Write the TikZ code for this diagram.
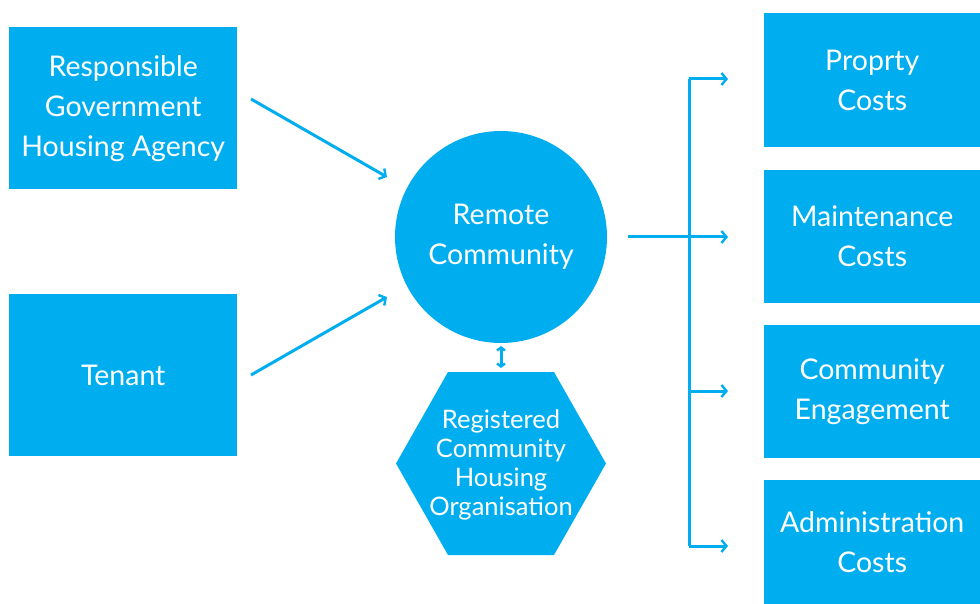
\documentclass[tikz,border=0pt]{standalone}
\usepackage{fontspec}
\setmainfont{Lato}
\usetikzlibrary{arrows.meta}
\definecolor{cy}{RGB}{0,174,239}
\tikzset{
  box/.style={fill=cy, text=white, align=center, inner sep=0pt, anchor=north west},
  big/.style={font=\fontsize{28.5}{40}\selectfont},
  small/.style={font=\fontsize{25.5}{29}\selectfont},
  conn/.style={draw=cy, line width=3pt, -{Straight Barb[length=5pt,width=12pt,line width=2.4pt]}},
}
\begin{document}
\begin{tikzpicture}[x=1pt,y=-1pt]
\useasboundingbox (0,0) rectangle (980,604);
% left boxes
\node[box, big, minimum width=228pt, minimum height=162pt] (agency) at (9,27) {Responsible\\Government\\Housing Agency};
\node[box, big, minimum width=228pt, minimum height=162pt] (tenant) at (9,294) {Tenant};
% circle
\node[circle, fill=cy, text=white, align=center, big, minimum size=212pt, inner sep=0pt] (remote) at (501,237) {Remote\\Community};
% hexagon
\fill[cy] (448,372) -- (554,372) -- (606,463.5) -- (554,555) -- (448,555) -- (396,463.5) -- cycle;
\node[text=white, align=center, small, inner sep=0pt] (rcho) at (501,465) {Registered\\Community\\Housing\\Organisation};
\coordinate (hextop) at (501,368);
\coordinate (circbot) at (501,346);
% right boxes
\node[box, big, minimum width=216pt, minimum height=134pt] (prop) at (764,13) {Proprty\\Costs};
\node[box, big, minimum width=216pt, minimum height=133pt] (maint) at (764,170) {Maintenance\\Costs};
\node[box, big, minimum width=216pt, minimum height=133pt] (engage) at (764,325) {Community\\Engagement};
\node[box, big, minimum width=216pt, minimum height=124pt] (admin) at (764,480) {Administration\\Costs};
% connector coordinates
\coordinate (a1s) at (251,99);
\coordinate (a1e) at (387,177);
\coordinate (a2s) at (251,375);
\coordinate (a2e) at (387,297);
\coordinate (hs) at (628,237);
\coordinate (vtop) at (689,79);
\coordinate (v3) at (689,391);
\coordinate (vbot) at (689,546);
\coordinate (e1) at (728,79);
\coordinate (e2) at (728,237);
\coordinate (e3) at (728,391);
\coordinate (e4) at (728,546);
\draw[conn] (a1s) -- (a1e);
\draw[conn] (a2s) -- (a2e);
\draw[conn] (hs) -- (e2);
\draw[draw=cy, line width=3pt] (vtop) -- (vbot);
\draw[conn] (vtop) -- (e1);
\draw[conn] (v3) -- (e3);
\draw[conn] (vbot) -- (e4);
\draw[draw=cy, line width=3pt, {Straight Barb[length=3pt,width=8pt,line width=2.4pt]}-{Straight Barb[length=3pt,width=8pt,line width=2.4pt]}] (circbot) -- (hextop);
\end{tikzpicture}
\end{document}
